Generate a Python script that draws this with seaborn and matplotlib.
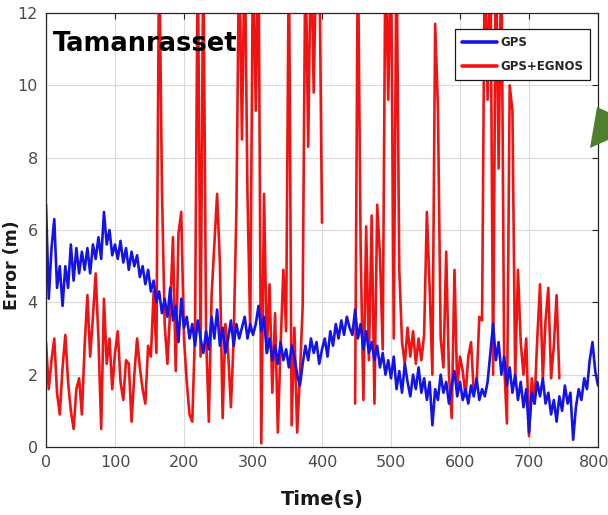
import numpy as np
import pandas as pd
import matplotlib
matplotlib.use("Agg")
import matplotlib.pyplot as plt
import matplotlib.transforms as mtransforms
from matplotlib.lines import Line2D
from matplotlib.patches import Polygon
import seaborn as sns

# Time axis (s), one sample every 4 s
time_gps = list(range(0, 801, 4))
time_egnos = list(range(0, 745, 4))

# Horizontal position error (m), GPS alone
err_gps = [
    6.7, 4.1, 5.5, 6.3, 4.4, 5.0, 3.9, 5.0, 4.4, 5.6,
    4.6, 5.5, 4.8, 5.4, 4.9, 5.5, 4.8, 5.6, 5.2, 5.8,
    5.2, 6.5, 5.6, 6.0, 5.3, 5.6, 5.2, 5.7, 5.1, 5.5,
    4.9, 5.4, 5.0, 5.3, 4.7, 5.0, 4.5, 4.9, 4.3, 4.6,
    4.0, 4.3, 3.7, 4.1, 3.6, 4.4, 3.5, 3.9, 2.9, 4.1,
    3.3, 3.6, 3.0, 3.4, 2.8, 3.5, 3.0, 2.6, 3.2, 2.7,
    3.6, 3.0, 3.8, 2.8, 3.3, 2.6, 3.0, 3.5, 2.8, 3.4,
    3.0, 3.3, 3.6, 3.0, 3.4, 3.1, 3.4, 3.9, 3.2, 3.6,
    2.6, 3.0, 2.4, 2.8, 2.3, 2.9, 2.4, 2.7, 2.2, 2.8,
    2.5, 2.0, 1.7, 2.3, 2.8, 2.4, 3.0, 2.6, 2.9, 2.3,
    2.7, 3.0, 2.5, 3.2, 2.8, 3.4, 3.0, 3.5, 3.1, 3.6,
    3.3, 3.1, 3.8, 3.0, 3.4, 2.7, 3.2, 2.6, 2.9, 2.4,
    2.8, 2.2, 2.6, 2.0, 2.4, 1.9, 2.5, 1.6, 2.1, 1.5,
    2.3, 1.8, 1.4, 2.0, 1.6, 2.2, 1.5, 1.9, 1.3, 1.8,
    0.6, 1.6, 1.3, 2.0, 1.5, 1.8, 1.2, 1.7, 2.1, 1.4,
    1.8, 1.3, 1.6, 1.2, 1.7, 1.4, 1.9, 1.3, 1.6, 1.4,
    1.8, 2.6, 3.4, 2.4, 2.9, 2.0, 2.5, 1.7, 2.2, 1.5,
    2.0, 1.3, 1.8, 1.1, 1.6, 0.4, 1.5, 1.2, 1.8, 1.4,
    1.9, 1.2, 1.5, 0.9, 1.3, 0.7, 1.4, 1.0, 1.7, 1.2,
    1.5, 0.2, 1.1, 1.6, 1.3, 1.9, 1.6, 2.4, 2.9, 2.1,
    1.7,
]

# Horizontal position error (m), GPS+EGNOS (no solution between ~402 s and ~446 s)
nan = float("nan")
err_egnos = [
    2.9, 1.6, 2.4, 3.0, 1.5, 0.9, 2.2, 3.1, 1.8, 1.0,
    0.5, 1.6, 1.9, 0.9, 2.8, 4.2, 2.5, 3.6, 4.8, 3.0,
    0.5, 4.1, 2.3, 3.0, 1.6, 2.6, 3.2, 1.8, 1.3, 2.4,
    2.3, 0.7, 2.0, 3.0, 2.2, 1.6, 1.2, 2.8, 2.5, 4.3,
    2.6, 14.0, 7.2, 3.4, 2.3, 3.8, 5.8, 2.1, 5.9, 6.5,
    3.0, 1.8, 0.9, 0.7, 3.2, 14.0, 2.5, 14.0, 3.1, 0.7,
    4.2, 5.6, 7.0, 5.1, 0.8, 3.4, 2.6, 1.1, 3.0, 6.6,
    14.0, 8.5, 14.0, 7.0, 3.2, 14.0, 9.3, 14.0, 0.1, 7.0,
    2.6, 4.5, 1.5, 3.7, 0.4, 2.8, 4.9, 3.2, 14.0, 0.6,
    3.3, 0.4, 2.0, 3.9, 14.0, 8.3, 14.0, 9.8, 14.0, 14.0,
    6.2, nan, nan, nan, nan, nan, nan, nan, nan, nan,
    nan, nan, 1.2, 14.0, 5.5, 1.3, 6.1, 2.4, 6.4, 1.2,
    6.7, 5.3, 2.7, 14.0, 9.6, 14.0, 3.0, 14.0, 4.9, 2.9,
    2.3, 3.3, 2.5, 3.2, 2.3, 3.0, 2.4, 3.1, 6.5, 4.4,
    2.0, 11.7, 9.4, 3.0, 2.2, 5.4, 2.0, 0.8, 4.9, 1.6,
    2.5, 2.1, 1.4, 2.5, 2.9, 1.5, 1.7, 3.6, 3.5, 14.0,
    9.6, 14.0, 2.0, 14.0, 7.7, 14.0, 2.3, 0.65, 10.0, 9.3,
    1.9, 4.9, 2.9, 2.0, 3.0, 0.3, 1.9, 1.2, 3.0, 4.5,
    1.9, 3.5, 4.4, 1.9, 2.8, 4.2, 1.9,
]

series_names = ["GPS", "GPS+EGNOS"]
x_ticks = [0, 100, 200, 300, 400, 500, 600, 700, 800]
y_ticks = [0, 2, 4, 6, 8, 10, 12]
station = "Tamanrasset"

BLUE = "#1414e8"
RED = "#f21212"

sns.set_style("white")
narrow = ["Liberation Sans Narrow", "DejaVu Sans Condensed", "DejaVu Sans"]
plt.rcParams["font.family"] = narrow

gps_df = pd.DataFrame({"t": time_gps, "err": err_gps})
egnos_df = pd.DataFrame({"t": time_egnos, "err": err_egnos})
# split the EGNOS record into continuous segments so the outage stays blank
egnos_df["seg"] = egnos_df["err"].isna().cumsum()
egnos_df = egnos_df.dropna()

fig = plt.figure(figsize=(6.08, 5.15), dpi=100)
ax = fig.add_axes([46 / 608, 1 - 447 / 515, 552 / 608, 434 / 515])

sns.lineplot(data=egnos_df, x="t", y="err", units="seg", estimator=None,
             sort=False, color=RED, lw=1.9, ax=ax, legend=False)
sns.lineplot(data=gps_df, x="t", y="err", estimator=None, sort=False,
             color=BLUE, lw=1.9, ax=ax, legend=False)

ax.set_xlim(0, 800)
ax.set_ylim(0, 12)
ax.set_xticks(x_ticks)
ax.set_yticks(y_ticks)
ax.set_xticklabels([str(v) for v in x_ticks])
ax.set_yticklabels([str(v) for v in y_ticks])
ax.grid(True, color="#dadada", lw=0.8)
ax.set_axisbelow(True)
for sp in ax.spines.values():
    sp.set_color("#262626")
    sp.set_linewidth(0.9)
ax.tick_params(direction="in", top=True, right=True, length=4, width=0.8,
               color="#262626", labelsize=11.5, labelcolor="#4a4a4a", pad=6)
# keep the last x label inside the canvas
last = ax.get_xticklabels()[-1]
last.set_transform(last.get_transform() +
                   mtransforms.ScaledTranslation(-4 / 100, 0, fig.dpi_scale_trans))

ax.set_xlabel("Time(s)", fontsize=14, fontweight="bold", color="#1a1a1a",
              family=narrow)
ax.xaxis.set_label_coords(0.5, -0.098)
ax.set_ylabel("Error (m)", fontsize=12.5, fontweight="bold", color="#1a1a1a",
              family=["DejaVu Sans"])
ax.yaxis.set_label_coords(-0.046, 0.42)

ax.text(0.012, 0.958, station, transform=ax.transAxes, fontsize=18.5,
        fontweight="bold", color="black", va="top", ha="left", family=narrow)

handles = [Line2D([], [], color=BLUE, lw=2.6), Line2D([], [], color=RED, lw=2.6)]
leg = ax.legend(handles, series_names, loc="upper right",
                bbox_to_anchor=(0.986, 0.963), borderaxespad=0,
                fancybox=False, framealpha=1, edgecolor="#1a1a1a",
                prop={"family": narrow, "weight": "bold", "size": 8.5},
                handlelength=2.9, handletextpad=0.3, labelspacing=0.95,
                borderpad=0.6)
leg.get_frame().set_linewidth(0.9)

# arrow head of the neighbouring diagram, cut at the right edge
pts = [(590, 148), (597, 107), (608, 112), (608, 140)]
tri = Polygon([(x / 608, 1 - y / 515) for x, y in pts], closed=True,
              transform=fig.transFigure, facecolor="#4f7f2c", edgecolor="none",
              zorder=10)
fig.patches.append(tri)

fig.savefig("out.png", dpi=100, facecolor="white")
